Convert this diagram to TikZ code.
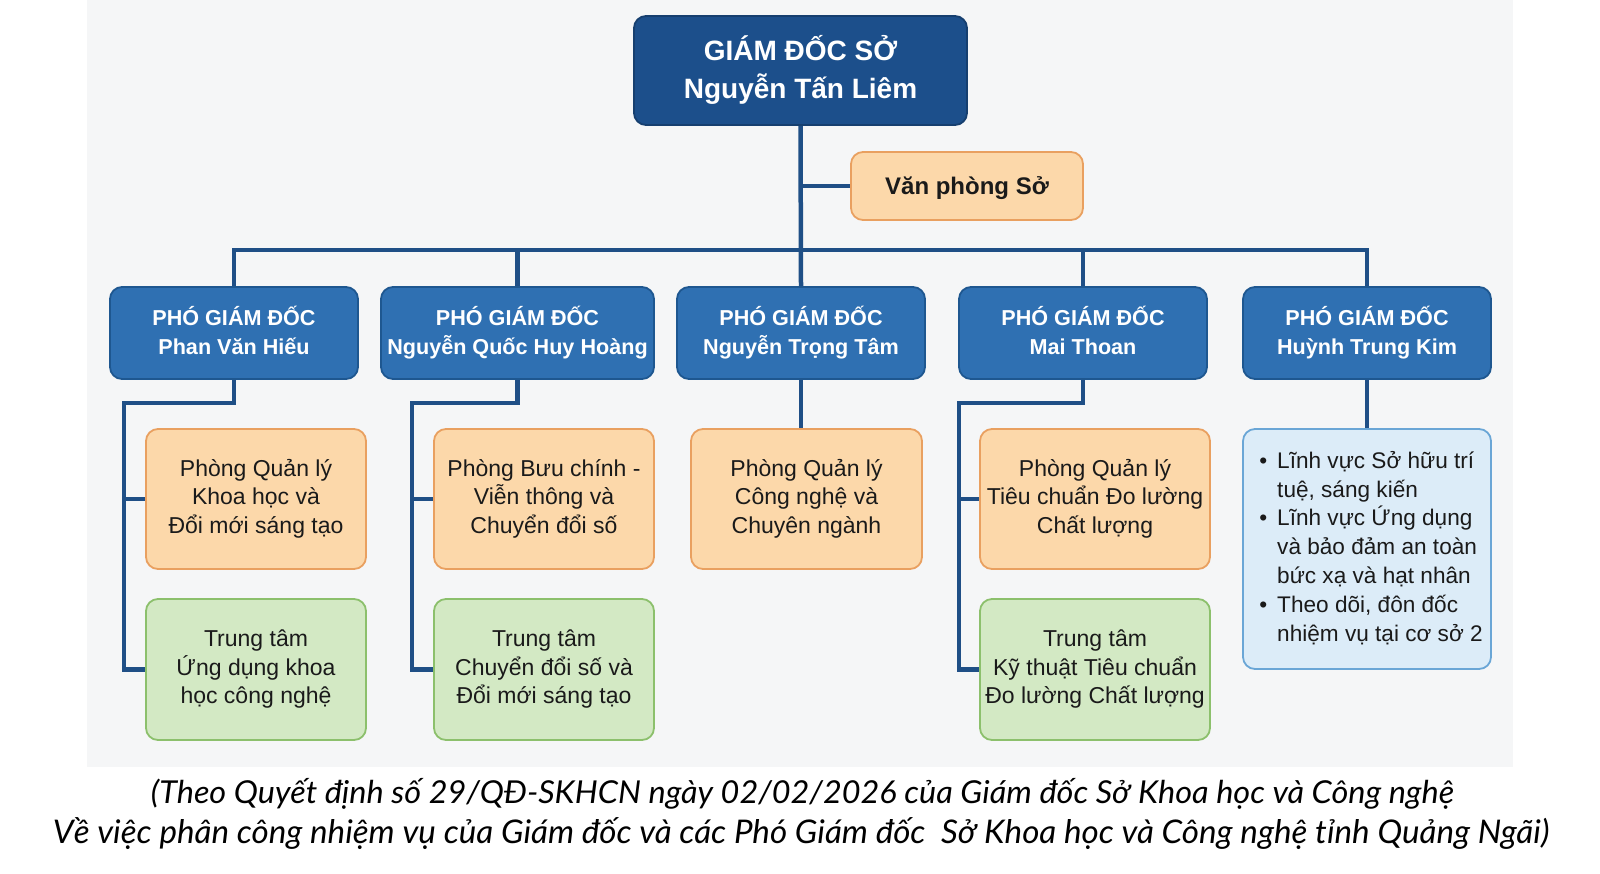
\documentclass[tikz,border=0pt]{standalone}
\usepackage{fontspec}
\usepackage{graphicx}
\setmainfont{Liberation Sans}
\newfontfamily\capfont{Lato}
\definecolor{bgc}{HTML}{F5F6F7}
\definecolor{topfill}{HTML}{1C4F8B}
\definecolor{pgdfill}{HTML}{2F70B2}
\definecolor{pgdedge}{HTML}{1E5790}
\definecolor{linec}{HTML}{1F4F86}
\definecolor{orfill}{HTML}{FCD8AA}
\definecolor{oredge}{HTML}{E9A060}
\definecolor{grfill}{HTML}{D3E9C4}
\definecolor{gredge}{HTML}{8CC06C}
\definecolor{blfill}{HTML}{DCECF8}
\definecolor{bledge}{HTML}{6AA6D6}
\definecolor{txt}{HTML}{1A1A1A}
\tikzset{
  box/.style={rectangle, rounded corners=12pt, line width=1.8pt, align=center, inner sep=0pt,
    execute at begin node={\rule{0pt}{0.98em}}, execute at end node={\rule[-0.24em]{0pt}{0pt}}},
  topbox/.style={box, fill=topfill, draw=topfill!80!black, text=white,
    font=\fontsize{28}{37.5}\selectfont\bfseries, minimum width=333pt, minimum height=109pt},
  pgdbox/.style={box, fill=pgdfill, draw=pgdedge, text=white,
    font=\fontsize{21.6}{29.5}\selectfont\bfseries, minimum width=248pt, minimum height=92pt},
  orbox/.style={box, fill=orfill, draw=oredge, text=txt,
    font=\fontsize{23}{28.5}\selectfont, minimum height=140pt},
  grbox/.style={box, fill=grfill, draw=gredge, text=txt,
    font=\fontsize{23}{28.5}\selectfont, minimum height=141pt},
  blbox/.style={rectangle, rounded corners=12pt, line width=1.8pt, inner sep=0pt,
    fill=blfill, draw=bledge, text=txt, align=left,
    font=\fontsize{22.6}{28.8}\selectfont, minimum width=248pt, minimum height=240pt},
  conn/.style={draw=linec, line width=4.5pt},
  captxt/.style={inner sep=0pt, text=black}
}
\begin{document}
\begin{tikzpicture}[x=1pt,y=-1pt]
\useasboundingbox (0,0) rectangle (1600,873);
\fill[white] (0,0) rectangle (1600,873);
\fill[bgc] (87,0) rectangle (1513,767);

% nodes
\node[topbox] (top) at (800.5,70.5) {GIÁM ĐỐC SỞ\\Nguyễn Tấn Liêm};
\node[box, fill=orfill, draw=oredge, text=txt, font=\fontsize{24}{28}\selectfont\bfseries,
  minimum width=232pt, minimum height=68pt] (vp) at (967,186) {Văn phòng Sở};

\node[pgdbox] (p1) at (234,333) {PHÓ GIÁM ĐỐC\\Phan Văn Hiếu};
\node[pgdbox, minimum width=273pt] (p2) at (517.5,333) {PHÓ GIÁM ĐỐC\\Nguyễn Quốc Huy Hoàng};
\node[pgdbox] (p3) at (801,333) {PHÓ GIÁM ĐỐC\\Nguyễn Trọng Tâm};
\node[pgdbox] (p4) at (1083,333) {PHÓ GIÁM ĐỐC\\Mai Thoan};
\node[pgdbox] (p5) at (1367,333) {PHÓ GIÁM ĐỐC\\Huỳnh Trung Kim};

\node[orbox, minimum width=220pt] (o1) at (256,499) {Phòng Quản lý\\Khoa học và\\Đổi mới sáng tạo};
\node[grbox, minimum width=220pt] (g1) at (256,669.5) {Trung tâm\\Ứng dụng khoa\\học công nghệ};
\node[orbox, minimum width=220pt] (o2) at (544,499) {Phòng Bưu chính -\\Viễn thông và\\Chuyển đổi số};
\node[grbox, minimum width=220pt] (g2) at (544,669.5) {Trung tâm\\Chuyển đổi số và\\Đổi mới sáng tạo};
\node[orbox, minimum width=231pt] (o3) at (806.5,499) {Phòng Quản lý\\Công nghệ và\\Chuyên ngành};
\node[orbox, minimum width=230pt] (o4) at (1095,499) {Phòng Quản lý\\Tiêu chuẩn Đo lường\\Chất lượng};
\node[grbox, minimum width=230pt] (g4) at (1095,669.5) {Trung tâm\\Kỹ thuật Tiêu chuẩn\\Đo lường Chất lượng};
\node[blbox] (b5) at (1367,549) {%
  \hspace*{8pt}\begin{tabular}{@{}l@{\hspace{10pt}}l@{}}
  • & Lĩnh vực Sở hữu trí\\
    & tuệ, sáng kiến\\
  • & Lĩnh vực Ứng dụng\\
    & và bảo đảm an toàn\\
    & bức xạ và hạt nhân\\
  • & Theo dõi, đôn đốc\\
    & nhiệm vụ tại cơ sở 2
  \end{tabular}};

% connectors
\coordinate (bus) at (801,250);
\draw[conn] (top.south) -- (p3.north);
\draw[conn] (top.south |- vp.west) -- (vp.west);
\draw[conn] (p1.north) |- (bus) -| (p5.north);
\draw[conn] (p2.north) -- (p2.north |- bus);
\draw[conn] (p4.north) -- (p4.north |- bus);

\coordinate (k1) at (124,403);
\coordinate (k2) at (412,403);
\coordinate (k4) at (959,403);
\draw[conn] (p1.south) |- (k1) |- (g1.west);
\draw[conn] (k1 |- o1.west) -- (o1.west);
\draw[conn] (p2.south) |- (k2) |- (g2.west);
\draw[conn] (k2 |- o2.west) -- (o2.west);
\draw[conn] (p4.south) |- (k4) |- (g4.west);
\draw[conn] (k4 |- o4.west) -- (o4.west);
\draw[conn] (p3.south) -- (p3.south |- o3.north);
\draw[conn] (p5.south) -- (b5.north);

% caption
\node[captxt] (cap1) at (802.5,794) {\resizebox*{1303pt}{31pt}{\capfont\itshape (Theo Quyết định số 29/QĐ-SKHCN ngày 02/02/2026 của Giám đốc Sở Khoa học và Công nghệ}};
\node[captxt] (cap2) at (801,834) {\resizebox*{1496pt}{32pt}{\capfont\itshape Về việc phân công nhiệm vụ của Giám đốc và các Phó Giám đốc\ \ Sở Khoa học và Công nghệ tỉnh Quảng Ngãi)}};
\end{tikzpicture}
\end{document}
